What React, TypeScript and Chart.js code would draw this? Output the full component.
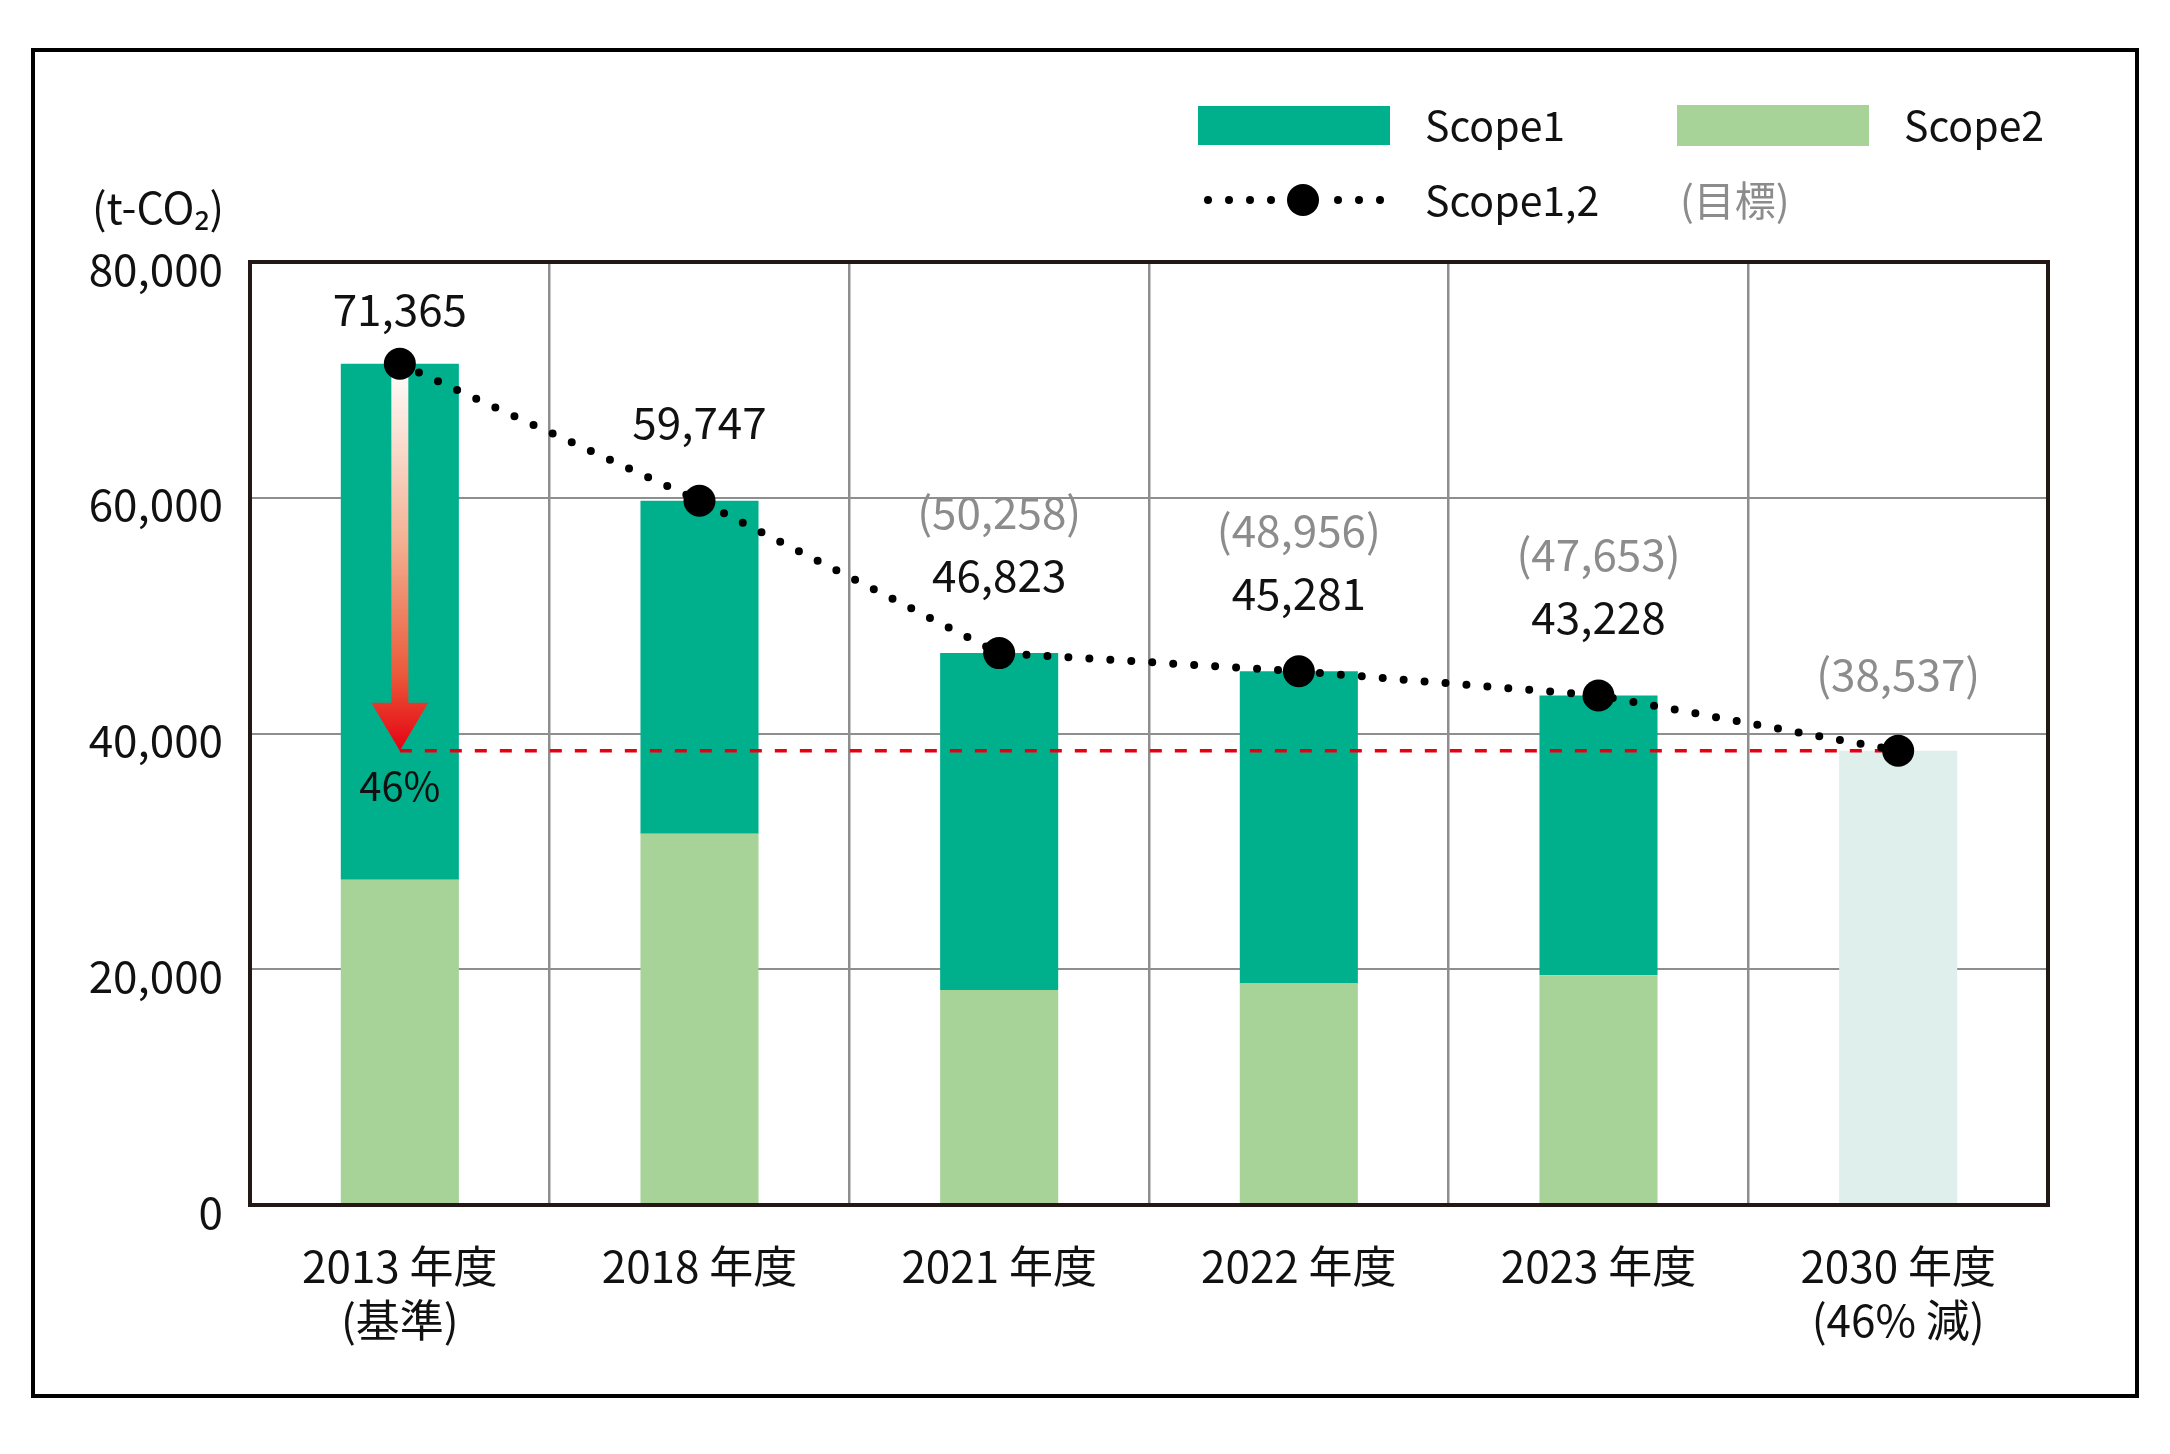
import React, { useEffect, useRef } from 'react';
import { Chart, registerables } from 'chart.js';

Chart.register(...registerables);

const FONT = '"Noto Sans CJK JP", "Noto Sans", sans-serif';

// ---- data ----
const categories: string[][] = [
  ['2013 年度', '(基準)'],
  ['2018 年度'],
  ['2021 年度'],
  ['2022 年度'],
  ['2023 年度'],
  ['2030 年度', '(46% 減)'],
];
const scope2 = [27600, 31500, 18250, 18800, 19500, null];
const scope1 = [43765, 28247, 28573, 26481, 23728, null];
const target2030Bar = [null, null, null, null, null, 38537];
const scope12 = [71365, 59747, 46823, 45281, 43228, 38537];
const actualLabels = [71365, 59747, 46823, 45281, 43228, null];
const targetLabels = [null, null, 50258, 48956, 47653, 38537];
const reductionTarget = 38537;
const reductionText = '46%';
const yTicks = [0, 20000, 40000, 60000, 80000];

const C_SCOPE1 = '#00B08C';
const C_SCOPE2 = '#A8D398';
const C_TARGET = '#DFEFEB';
const C_GRID = '#8E8E8E';
const C_BORDER = '#231815';
const C_TEXT = '#111111';
const C_GRAY = '#8C8C8C';
const C_RED = '#E60012';

const fmt = (v: number) => v.toLocaleString('en-US');

const decorPlugin = {
  id: 'decor',
  beforeDatasetDraw(chart: any, args: any) {
    if (args.meta.type !== 'line') return;
    const { ctx } = chart;
    const x = chart.scales.x;
    const y = chart.scales.y;
    const x0 = x.getPixelForValue(0);
    const x5 = x.getPixelForValue(5);
    const yT = y.getPixelForValue(reductionTarget);
    const yTop = y.getPixelForValue(scope12[0]);
    ctx.save();
    // arrow
    const headH = 48;
    const headHalf = 28.5;
    const shaftHalf = 8.5;
    const g = ctx.createLinearGradient(0, yTop, 0, yT);
    g.addColorStop(0, '#FFFFFF');
    g.addColorStop(0.45, '#F3B395');
    g.addColorStop(0.8, '#EA5B3A');
    g.addColorStop(1, '#E60012');
    ctx.fillStyle = g;
    ctx.beginPath();
    ctx.moveTo(x0 - shaftHalf, yTop);
    ctx.lineTo(x0 + shaftHalf, yTop);
    ctx.lineTo(x0 + shaftHalf, yT - headH);
    ctx.lineTo(x0 + headHalf, yT - headH);
    ctx.lineTo(x0, yT);
    ctx.lineTo(x0 - headHalf, yT - headH);
    ctx.lineTo(x0 - shaftHalf, yT - headH);
    ctx.closePath();
    ctx.fill();
    // red dashed line
    ctx.strokeStyle = C_RED;
    ctx.lineWidth = 3.5;
    ctx.setLineDash([12, 13]);
    ctx.beginPath();
    ctx.moveTo(x0, yT);
    ctx.lineTo(x5, yT);
    ctx.stroke();
    ctx.restore();
  },
  afterDraw(chart: any) {
    const { ctx, chartArea } = chart;
    const x = chart.scales.x;
    const y = chart.scales.y;
    ctx.save();
    // plot frame
    ctx.strokeStyle = C_BORDER;
    ctx.lineWidth = 4;
    ctx.strokeRect(chartArea.left, chartArea.top, chartArea.right - chartArea.left, chartArea.bottom - chartArea.top);
    // outer frame
    ctx.strokeStyle = '#000';
    ctx.lineWidth = 4;
    ctx.strokeRect(33, 50, 2104, 1346);

    // value labels
    ctx.textAlign = 'center';
    ctx.textBaseline = 'middle';
    ctx.font = `44px ${FONT}`;
    scope12.forEach((v, i) => {
      const px = x.getPixelForValue(i);
      const py = y.getPixelForValue(v);
      let blackY: number | null = null;
      const a = actualLabels[i];
      if (a != null) {
        blackY = Math.max(py - 78, chartArea.top + 47);
        ctx.fillStyle = C_TEXT;
        ctx.fillText(fmt(a), px, blackY);
      }
      const t = targetLabels[i];
      if (t != null) {
        const gy = blackY != null ? blackY - 63 : py - 76;
        ctx.fillStyle = C_GRAY;
        ctx.fillText(`(${fmt(t)})`, px, gy);
      }
    });
    // 46% label
    ctx.font = `40px ${FONT}`;
    ctx.fillStyle = C_TEXT;
    ctx.fillText(reductionText, x.getPixelForValue(0), y.getPixelForValue(reductionTarget) + 35);

    // unit label
    ctx.textAlign = 'left';
    ctx.font = `43px ${FONT}`;
    ctx.fillText('(t-CO₂)', 92, 208);

    // legend
    ctx.fillStyle = C_SCOPE1;
    ctx.fillRect(1198, 106, 192, 39);
    ctx.fillStyle = C_SCOPE2;
    ctx.fillRect(1677, 105, 192, 41);
    ctx.font = `41px ${FONT}`;
    ctx.fillStyle = C_TEXT;
    ctx.fillText('Scope1', 1425, 125);
    ctx.fillText('Scope2', 1904, 125);
    ctx.fillText('Scope1,2', 1425, 200);
    ctx.fillStyle = C_GRAY;
    ctx.fillText('(目標)', 1680, 200);
    ctx.fillStyle = '#000';
    [1208, 1229, 1250, 1271, 1338, 1359, 1380].forEach((dx) => {
      ctx.beginPath();
      ctx.arc(dx, 200, 4, 0, Math.PI * 2);
      ctx.fill();
    });
    ctx.beginPath();
    ctx.arc(1303, 200, 16, 0, Math.PI * 2);
    ctx.fill();
    ctx.restore();
  },
};

export default function App() {
  const ref = useRef<HTMLCanvasElement | null>(null);
  useEffect(() => {
    if (!ref.current) return;
    Chart.defaults.font.family = FONT;
    const chart = new Chart(ref.current, {
      type: 'bar',
      data: {
        labels: categories as any,
        datasets: [
          {
            type: 'line',
            label: 'Scope1,2',
            data: scope12,
            borderColor: '#000',
            borderWidth: 8,
            borderDash: [0, 21],
            borderCapStyle: 'round',
            tension: 0,
            pointRadius: 16,
            pointHoverRadius: 16,
            pointBackgroundColor: '#000',
            pointBorderWidth: 0,
            order: 0,
          } as any,
          {
            label: 'Scope2',
            data: scope2,
            backgroundColor: C_SCOPE2,
            stack: 's',
            order: 2,
          },
          {
            label: 'Scope1',
            data: scope1,
            backgroundColor: C_SCOPE1,
            stack: 's',
            order: 2,
          },
          {
            label: '目標',
            data: target2030Bar,
            backgroundColor: C_TARGET,
            stack: 's',
            order: 2,
          },
        ],
      },
      options: {
        responsive: false,
        animation: false,
        devicePixelRatio: 1,
        layout: { padding: { left: 0, top: 262, right: 122, bottom: 0 } },
        datasets: { bar: { barPercentage: 0.394, categoryPercentage: 1 } },
        plugins: { legend: { display: false }, tooltip: { enabled: false } },
        scales: {
          x: {
            stacked: true,
            grid: { color: C_GRID, lineWidth: 2.5, drawTicks: false, offset: true },
            border: { display: false },
            ticks: {
              color: C_TEXT,
              padding: 34,
              font: { size: 44, lineHeight: 1.23, family: FONT },
              maxRotation: 0,
              autoSkip: false,
            },
            afterFit: (s: any) => {
              s.height = 249;
            },
          },
          y: {
            stacked: true,
            min: 0,
            max: 80000,
            afterBuildTicks: (s: any) => {
              s.ticks = yTicks.map((v) => ({ value: v }));
            },
            grid: { color: C_GRID, lineWidth: 2, drawTicks: false },
            border: { display: false },
            ticks: {
              color: C_TEXT,
              padding: 27,
              labelOffset: 7,
              font: { size: 44, family: FONT },
              callback: (v: any) => fmt(Number(v)),
            },
            afterFit: (s: any) => {
              s.width = 250;
            },
          },
        },
      } as any,
      plugins: [decorPlugin],
    });
    return () => chart.destroy();
  }, []);
  return (
    <div style={{ position: 'absolute', left: 0, top: 0, width: 2170, height: 1454, background: '#fff' }}>
      <canvas ref={ref} width={2170} height={1454} style={{ display: 'block' }} />
    </div>
  );
}
